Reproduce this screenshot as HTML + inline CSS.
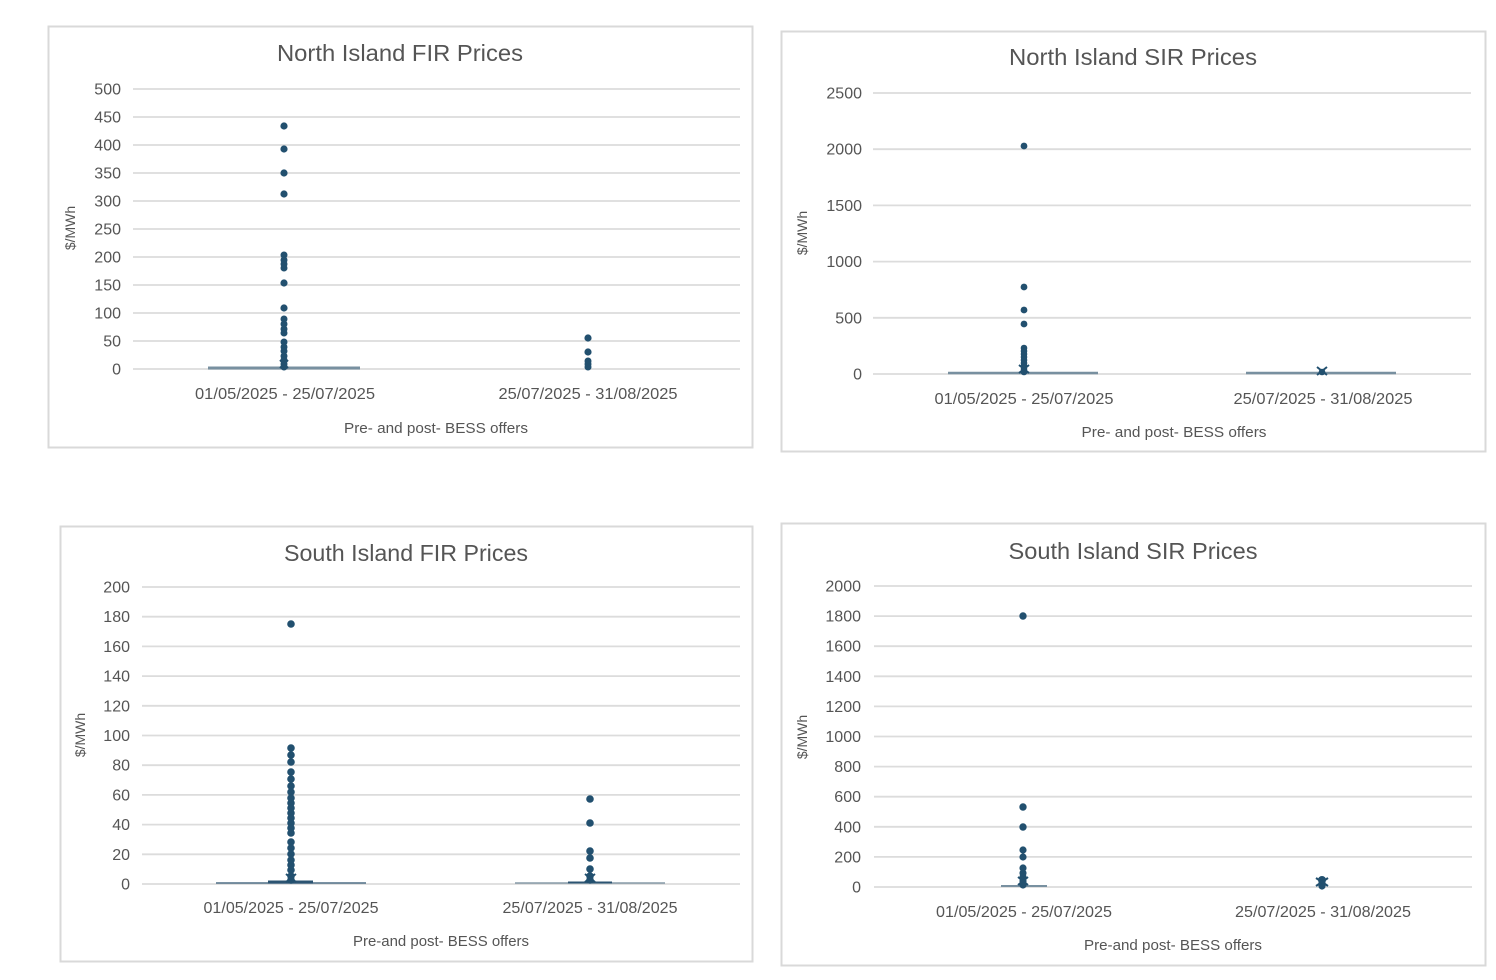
<!DOCTYPE html>
<html><head><meta charset="utf-8"><style>
html,body{margin:0;padding:0;background:#fff;}
svg{display:block;}
text{font-family:"Liberation Sans",sans-serif;fill:#555;}
.tk{font-size:16px;text-anchor:end;}
.ti{font-size:23px;text-anchor:middle;}
.xl{font-size:16px;text-anchor:middle;}
.xt{font-size:15px;text-anchor:middle;}
.yt{font-size:14px;text-anchor:middle;}
.g{stroke:#dcdcdc;stroke-width:1.8;}
.fr{fill:none;stroke:#d9d9d9;stroke-width:2;}
.d{fill:#22506f;}
.bx{stroke:#7890a0;}
</style></head><body>
<svg width="1496" height="980" viewBox="0 0 1496 980" xmlns="http://www.w3.org/2000/svg">
<rect width="1496" height="980" fill="#fff"/>

<!-- Chart 1: North Island FIR -->
<rect class="fr" x="48.5" y="26.5" width="704" height="421"/>
<text class="ti" x="400" y="61" textLength="246" lengthAdjust="spacingAndGlyphs">North Island FIR Prices</text>
<text class="yt" transform="translate(75,228) rotate(-90)">$/MWh</text>
<text class="xl" x="285" y="399" textLength="180" lengthAdjust="spacingAndGlyphs">01/05/2025 - 25/07/2025</text>
<text class="xl" x="588" y="399" textLength="179" lengthAdjust="spacingAndGlyphs">25/07/2025 - 31/08/2025</text>
<text class="xt" x="436" y="433" textLength="184" lengthAdjust="spacingAndGlyphs">Pre- and post- BESS offers</text>

<!-- Chart 2: North Island SIR -->
<rect class="fr" x="781.5" y="31.5" width="704" height="420"/>
<text class="ti" x="1133" y="65" textLength="248" lengthAdjust="spacingAndGlyphs">North Island SIR Prices</text>
<text class="yt" transform="translate(807,233) rotate(-90)">$/MWh</text>
<text class="xl" x="1024" y="404" textLength="179" lengthAdjust="spacingAndGlyphs">01/05/2025 - 25/07/2025</text>
<text class="xl" x="1323" y="404" textLength="179" lengthAdjust="spacingAndGlyphs">25/07/2025 - 31/08/2025</text>
<text class="xt" x="1174" y="437" textLength="185" lengthAdjust="spacingAndGlyphs">Pre- and post- BESS offers</text>

<!-- Chart 3: South Island FIR -->
<rect class="fr" x="60.5" y="526.5" width="692" height="435"/>
<text class="ti" x="406" y="561" textLength="244" lengthAdjust="spacingAndGlyphs">South Island FIR Prices</text>
<text class="yt" transform="translate(85,735) rotate(-90)">$/MWh</text>
<text class="xl" x="291" y="913" textLength="175" lengthAdjust="spacingAndGlyphs">01/05/2025 - 25/07/2025</text>
<text class="xl" x="590" y="913" textLength="175" lengthAdjust="spacingAndGlyphs">25/07/2025 - 31/08/2025</text>
<text class="xt" x="441" y="946" textLength="176" lengthAdjust="spacingAndGlyphs">Pre-and post- BESS offers</text>

<!-- Chart 4: South Island SIR -->
<rect class="fr" x="781.5" y="523.5" width="704" height="442"/>
<text class="ti" x="1133" y="559" textLength="249" lengthAdjust="spacingAndGlyphs">South Island SIR Prices</text>
<text class="yt" transform="translate(807,737) rotate(-90)">$/MWh</text>
<text class="xl" x="1024" y="917" textLength="176" lengthAdjust="spacingAndGlyphs">01/05/2025 - 25/07/2025</text>
<text class="xl" x="1323" y="917" textLength="176" lengthAdjust="spacingAndGlyphs">25/07/2025 - 31/08/2025</text>
<text class="xt" x="1173" y="950" textLength="178" lengthAdjust="spacingAndGlyphs">Pre-and post- BESS offers</text>

<!-- Chart 1 grid -->
<line class="g" x1="133" x2="740" y1="89" y2="89"/><text class="tk" x="121" y="94.5">500</text>
<line class="g" x1="133" x2="740" y1="117" y2="117"/><text class="tk" x="121" y="122.5">450</text>
<line class="g" x1="133" x2="740" y1="145" y2="145"/><text class="tk" x="121" y="150.5">400</text>
<line class="g" x1="133" x2="740" y1="173" y2="173"/><text class="tk" x="121" y="178.5">350</text>
<line class="g" x1="133" x2="740" y1="201" y2="201"/><text class="tk" x="121" y="206.5">300</text>
<line class="g" x1="133" x2="740" y1="229" y2="229"/><text class="tk" x="121" y="234.5">250</text>
<line class="g" x1="133" x2="740" y1="257" y2="257"/><text class="tk" x="121" y="262.5">200</text>
<line class="g" x1="133" x2="740" y1="285" y2="285"/><text class="tk" x="121" y="290.5">150</text>
<line class="g" x1="133" x2="740" y1="313" y2="313"/><text class="tk" x="121" y="318.5">100</text>
<line class="g" x1="133" x2="740" y1="341" y2="341"/><text class="tk" x="121" y="346.5">50</text>
<line class="g" x1="133" x2="740" y1="369" y2="369"/><text class="tk" x="121" y="374.5">0</text>

<!-- Chart 2 grid -->
<line class="g" x1="873" x2="1471" y1="93" y2="93"/><text class="tk" x="862" y="98.5">2500</text>
<line class="g" x1="873" x2="1471" y1="149.2" y2="149.2"/><text class="tk" x="862" y="154.7">2000</text>
<line class="g" x1="873" x2="1471" y1="205.4" y2="205.4"/><text class="tk" x="862" y="210.9">1500</text>
<line class="g" x1="873" x2="1471" y1="261.6" y2="261.6"/><text class="tk" x="862" y="267.1">1000</text>
<line class="g" x1="873" x2="1471" y1="317.8" y2="317.8"/><text class="tk" x="862" y="323.3">500</text>
<line class="g" x1="873" x2="1471" y1="374" y2="374"/><text class="tk" x="862" y="379.5">0</text>

<!-- Chart 3 grid -->
<line class="g" x1="142" x2="740" y1="587" y2="587"/><text class="tk" x="130" y="592.5">200</text>
<line class="g" x1="142" x2="740" y1="616.7" y2="616.7"/><text class="tk" x="130" y="622.2">180</text>
<line class="g" x1="142" x2="740" y1="646.4" y2="646.4"/><text class="tk" x="130" y="651.9">160</text>
<line class="g" x1="142" x2="740" y1="676.1" y2="676.1"/><text class="tk" x="130" y="681.6">140</text>
<line class="g" x1="142" x2="740" y1="705.8" y2="705.8"/><text class="tk" x="130" y="711.3">120</text>
<line class="g" x1="142" x2="740" y1="735.5" y2="735.5"/><text class="tk" x="130" y="741">100</text>
<line class="g" x1="142" x2="740" y1="765.2" y2="765.2"/><text class="tk" x="130" y="770.7">80</text>
<line class="g" x1="142" x2="740" y1="794.9" y2="794.9"/><text class="tk" x="130" y="800.4">60</text>
<line class="g" x1="142" x2="740" y1="824.6" y2="824.6"/><text class="tk" x="130" y="830.1">40</text>
<line class="g" x1="142" x2="740" y1="854.3" y2="854.3"/><text class="tk" x="130" y="859.8">20</text>
<line class="g" x1="142" x2="740" y1="884" y2="884"/><text class="tk" x="130" y="889.5">0</text>

<!-- Chart 4 grid -->
<line class="g" x1="874" x2="1472" y1="586" y2="586"/><text class="tk" x="861" y="591.5">2000</text>
<line class="g" x1="874" x2="1472" y1="616.1" y2="616.1"/><text class="tk" x="861" y="621.6">1800</text>
<line class="g" x1="874" x2="1472" y1="646.2" y2="646.2"/><text class="tk" x="861" y="651.7">1600</text>
<line class="g" x1="874" x2="1472" y1="676.3" y2="676.3"/><text class="tk" x="861" y="681.8">1400</text>
<line class="g" x1="874" x2="1472" y1="706.4" y2="706.4"/><text class="tk" x="861" y="711.9">1200</text>
<line class="g" x1="874" x2="1472" y1="736.5" y2="736.5"/><text class="tk" x="861" y="742">1000</text>
<line class="g" x1="874" x2="1472" y1="766.6" y2="766.6"/><text class="tk" x="861" y="772.1">800</text>
<line class="g" x1="874" x2="1472" y1="796.7" y2="796.7"/><text class="tk" x="861" y="802.2">600</text>
<line class="g" x1="874" x2="1472" y1="826.8" y2="826.8"/><text class="tk" x="861" y="832.3">400</text>
<line class="g" x1="874" x2="1472" y1="856.9" y2="856.9"/><text class="tk" x="861" y="862.4">200</text>
<line class="g" x1="874" x2="1472" y1="887" y2="887"/><text class="tk" x="861" y="892.5">0</text>

<!-- Box lines -->
<line class="bx" x1="208" x2="360" y1="368" y2="368" stroke-width="3"/>
<line class="bx" x1="948" x2="1098" y1="373" y2="373" stroke-width="2.5"/>
<line class="bx" x1="1246" x2="1396" y1="373" y2="373" stroke-width="2.5"/>
<line x1="216" x2="366" y1="883" y2="883" stroke="#4f6f85" stroke-width="1.5"/>
<line x1="268" x2="313" y1="882" y2="882" stroke="#2c5472" stroke-width="3"/>
<line x1="515" x2="665" y1="883" y2="883" stroke="#6f8797" stroke-width="1.3"/>
<line x1="568" x2="612" y1="882.5" y2="882.5" stroke="#2c5472" stroke-width="2"/>
<line x1="1001" x2="1047" y1="886" y2="886" stroke="#7890a0" stroke-width="2"/>

<g class="d">
<!-- Chart 1 -->
<circle cx="284" cy="126" r="3.6"/><circle cx="284" cy="149" r="3.6"/><circle cx="284" cy="173" r="3.6"/><circle cx="284" cy="194" r="3.6"/>
<circle cx="284" cy="255" r="3.5"/><circle cx="284" cy="260" r="3.5"/><circle cx="284" cy="264" r="3.5"/><circle cx="284" cy="268" r="3.5"/>
<circle cx="284" cy="283" r="3.6"/><circle cx="284" cy="308" r="3.6"/><circle cx="284" cy="319" r="3.5"/><circle cx="284" cy="324" r="3.5"/>
<circle cx="284" cy="329" r="3.5"/><circle cx="284" cy="333" r="3.5"/><circle cx="284" cy="342" r="3.5"/><circle cx="284" cy="347" r="3.5"/>
<circle cx="284" cy="351" r="3.5"/><circle cx="284" cy="356" r="3.5"/><circle cx="284" cy="360" r="3.5"/><circle cx="284" cy="364" r="3.5"/><circle cx="284" cy="367" r="3.5"/>
<circle cx="588" cy="338" r="3.6"/><circle cx="588" cy="352" r="3.6"/><circle cx="588" cy="361" r="3.5"/><circle cx="588" cy="364" r="3.5"/><circle cx="588" cy="367" r="3.5"/>
<path d="M280 360 L288 368 M288 360 L280 368" stroke="#22506f" stroke-width="2"/>

<!-- Chart 2 -->
<circle cx="1024" cy="146" r="3.4"/><circle cx="1024" cy="287" r="3.4"/><circle cx="1024" cy="310" r="3.4"/><circle cx="1024" cy="324" r="3.4"/>
<circle cx="1024" cy="348" r="3.3"/><circle cx="1024" cy="351" r="3.3"/><circle cx="1024" cy="354" r="3.3"/><circle cx="1024" cy="357" r="3.3"/>
<circle cx="1024" cy="360" r="3.3"/><circle cx="1024" cy="363" r="3.3"/><circle cx="1024" cy="366" r="3.3"/><circle cx="1024" cy="369" r="3.3"/><circle cx="1024" cy="372" r="3.3"/>
<path d="M1019 365 L1029 373 M1029 365 L1019 373" stroke="#22506f" stroke-width="2"/>
<circle cx="1322" cy="372" r="3.3"/>
<path d="M1317 367 L1327 375 M1327 367 L1317 375" stroke="#22506f" stroke-width="2"/>

<!-- Chart 3 -->
<circle cx="291" cy="624" r="3.8"/>
<circle cx="291" cy="748" r="3.8"/><circle cx="291" cy="755" r="3.8"/><circle cx="291" cy="762" r="3.8"/>
<circle cx="291" cy="772" r="3.8"/><circle cx="291" cy="779" r="3.8"/><circle cx="291" cy="786" r="3.8"/><circle cx="291" cy="792" r="3.8"/>
<circle cx="291" cy="798" r="3.8"/><circle cx="291" cy="803" r="3.8"/><circle cx="291" cy="808" r="3.8"/><circle cx="291" cy="813" r="3.8"/>
<circle cx="291" cy="818" r="3.8"/><circle cx="291" cy="823" r="3.8"/><circle cx="291" cy="828" r="3.8"/><circle cx="291" cy="833" r="3.8"/>
<circle cx="291" cy="842" r="3.8"/><circle cx="291" cy="848" r="3.8"/><circle cx="291" cy="854" r="3.8"/><circle cx="291" cy="860" r="3.8"/>
<circle cx="291" cy="865" r="3.8"/><circle cx="291" cy="870" r="3.8"/><circle cx="291" cy="876" r="3.8"/><circle cx="291" cy="880" r="3.8"/>
<path d="M286 874 L296 882 M296 874 L286 882" stroke="#22506f" stroke-width="2"/>
<circle cx="590" cy="799" r="3.8"/><circle cx="590" cy="823" r="3.8"/><circle cx="590" cy="851" r="3.8"/><circle cx="590" cy="858" r="3.8"/>
<circle cx="590" cy="869" r="3.8"/><circle cx="590" cy="876" r="3.8"/><circle cx="590" cy="880" r="3.8"/>
<path d="M585 874 L595 882 M595 874 L585 882" stroke="#22506f" stroke-width="2"/>

<!-- Chart 4 -->
<circle cx="1023" cy="616" r="3.7"/><circle cx="1023" cy="807" r="3.7"/><circle cx="1023" cy="827" r="3.7"/>
<circle cx="1023" cy="850" r="3.6"/><circle cx="1023" cy="857" r="3.6"/><circle cx="1023" cy="868" r="3.6"/><circle cx="1023" cy="873" r="3.6"/>
<circle cx="1023" cy="877" r="3.6"/><circle cx="1023" cy="881" r="3.6"/><circle cx="1023" cy="885" r="3.6"/>
<path d="M1018 877 L1028 885 M1028 877 L1018 885" stroke="#22506f" stroke-width="2"/>
<circle cx="1322" cy="880" r="4"/><circle cx="1322" cy="883" r="3.6"/><circle cx="1322" cy="886" r="3.6"/>
<path d="M1316 878 L1328 886 M1328 878 L1316 886" stroke="#22506f" stroke-width="2"/>
</g>
</svg>
</body></html>
